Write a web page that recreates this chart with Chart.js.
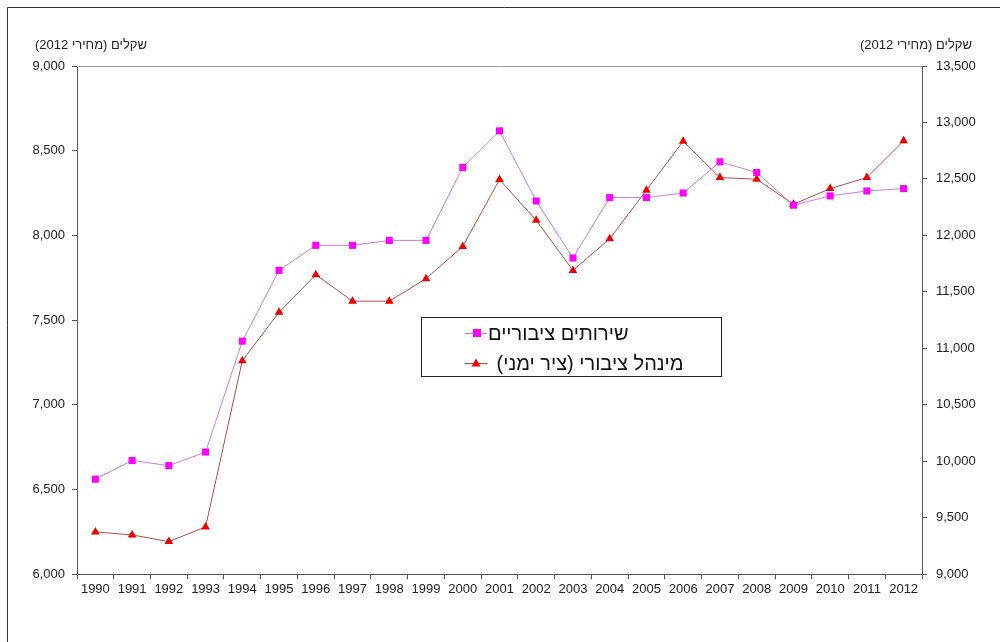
<!DOCTYPE html>
<html><head><meta charset="utf-8">
<style>html,body{margin:0;padding:0;background:#fff}#wrap{width:1000px;height:642px;position:relative}</style>
<script src="https://cdn.jsdelivr.net/npm/chart.js@4"></script>
</head><body><div id="wrap"><canvas id="c" width="1000" height="642"></canvas></div>
<script>
const years = ['1990','1991','1992','1993','1994','1995','1996','1997','1998','1999','2000','2001','2002','2003','2004','2005','2006','2007','2008','2009','2010','2011','2012'];
const publicServices = [6560, 6670, 6640, 6720, 7375, 7793, 7941, 7941, 7970, 7970, 8401, 8617, 8203, 7866, 8223, 8223, 8250, 8434, 8371, 8178, 8233, 8262, 8276];
const publicAdmin = [9373, 9346, 9287, 9417, 10890, 11319, 11651, 11417, 11417, 11616, 11902, 12494, 12133, 11689, 11970, 12400, 12834, 12512, 12497, 12275, 12414, 12512, 12837];
const seriesNames = ['שירותים ציבוריים', 'מינהל ציבורי (ציר ימני) '];
const axisTitle = 'שקלים (מחירי 2012)';
const leftTicks = [6000, 6500, 7000, 7500, 8000, 8500, 9000];
const rightTicks = [9000, 9500, 10000, 10500, 11000, 11500, 12000, 12500, 13000, 13500];

const FONT = 'Liberation Sans, Arial, sans-serif';

const framePlugin = {
  id: 'frame',
  beforeDraw(chart) {
    const c = chart.ctx;
    c.save();
    c.fillStyle = '#fff';
    c.fillRect(0, 0, chart.width, chart.height);
    c.strokeStyle = '#333';
    c.lineWidth = 1;
    c.beginPath();
    c.moveTo(7.5, chart.height + 5);
    c.lineTo(7.5, 7.5);
    c.lineTo(chart.width + 5, 7.5);
    c.stroke();
    c.restore();
  },
  afterDraw(chart) {
    const c = chart.ctx, a = chart.chartArea;
    c.save();
    c.strokeStyle = '#999';
    c.lineWidth = 1;
    c.beginPath();
    c.moveTo(a.left, Math.round(a.top) + 0.5);
    c.lineTo(a.right, Math.round(a.top) + 0.5);
    c.stroke();
    // axis titles
    c.fillStyle = '#222';
    c.font = '13px ' + FONT;
    c.direction = 'rtl';
    c.textAlign = 'right';
    c.textBaseline = 'middle';
    c.fillText(axisTitle, 147, 45);
    c.fillText(axisTitle, 972, 45);
    c.restore();
  }
};

const legendPlugin = {
  id: 'boxLegend',
  afterDraw(chart) {
    const c = chart.ctx;
    const bx = 421, by = 317, bw = 300, bh = 59;
    c.save();
    c.fillStyle = '#fff';
    c.fillRect(bx, by, bw, bh);
    c.strokeStyle = '#222';
    c.lineWidth = 1;
    c.strokeRect(bx + 0.5, by + 0.5, bw, bh);
    chart.data.datasets.forEach((ds, i) => {
      const y = by + 16 + i * 30;
      c.strokeStyle = ds.borderColor;
      c.lineWidth = 1;
      c.beginPath();
      c.moveTo(465, y + 0.5);
      c.lineTo(487, y + 0.5);
      c.stroke();
      c.fillStyle = ds.pointBackgroundColor;
      if (ds.pointStyle === 'rect') {
        c.fillRect(473, y - 4, 8, 8);
      } else {
        c.beginPath();
        c.moveTo(476, y - 4.5);
        c.lineTo(480.5, y + 3.5);
        c.lineTo(471.5, y + 3.5);
        c.closePath();
        c.fill();
      }
      c.fillStyle = '#111';
      c.font = '20px ' + FONT;
      c.direction = 'rtl';
      c.textAlign = 'left';
      c.textBaseline = 'middle';
      c.fillText(ds.label, 488 + i * 3, y + 1);
    });
    c.restore();
  }
};

const tickFont = { family: FONT, size: 13 };

new Chart(document.getElementById('c'), {
  type: 'line',
  data: {
    labels: years,
    datasets: [
      { label: seriesNames[0], data: publicServices, yAxisID: 'y',
        borderColor: '#c77fd6', backgroundColor: '#ff00ff',
        pointBackgroundColor: '#ff00ff', pointBorderColor: '#ff00ff',
        pointStyle: 'rect', pointRadius: 5, pointBorderWidth: 0, borderWidth: 1, tension: 0 },
      { label: seriesNames[1], data: publicAdmin, yAxisID: 'y1',
        borderColor: '#b94a4a', backgroundColor: '#ee0000',
        pointBackgroundColor: '#ee0000', pointBorderColor: '#ee0000',
        pointStyle: 'triangle', pointRadius: 5, pointBorderWidth: 0, borderWidth: 1, tension: 0 }
    ]
  },
  options: {
    responsive: false,
    animation: false,
    layout: { padding: { top: 66, left: 0, right: 0, bottom: 0 } },
    plugins: { legend: { display: false }, tooltip: { enabled: false } },
    scales: {
      x: {
        offset: true,
        grid: { offset: true, drawOnChartArea: false, tickLength: 5, color: '#555' },
        border: { color: '#555' },
        ticks: { color: '#222', font: tickFont, padding: 3, maxRotation: 0, autoSkip: false },
        afterFit(s) { s.height = 68; }
      },
      y: {
        position: 'left',
        min: leftTicks[0], max: leftTicks[leftTicks.length - 1],
        afterBuildTicks(s) { s.ticks = leftTicks.map(v => ({ value: v })); },
        grid: { drawOnChartArea: false, tickLength: 5, color: '#555' },
        border: { color: '#555' },
        ticks: { color: '#222', font: tickFont, padding: 7, callback: v => v.toLocaleString('en-US') },
        afterFit(s) { s.width = 77; }
      },
      y1: {
        position: 'right',
        min: rightTicks[0], max: rightTicks[rightTicks.length - 1],
        afterBuildTicks(s) { s.ticks = rightTicks.map(v => ({ value: v })); },
        grid: { drawOnChartArea: false, tickLength: 5, color: '#555' },
        border: { color: '#555' },
        ticks: { color: '#222', font: tickFont, padding: 9, callback: v => v.toLocaleString('en-US') },
        afterFit(s) { s.width = 78; }
      }
    }
  },
  plugins: [framePlugin, legendPlugin]
});
</script>
</body></html>
